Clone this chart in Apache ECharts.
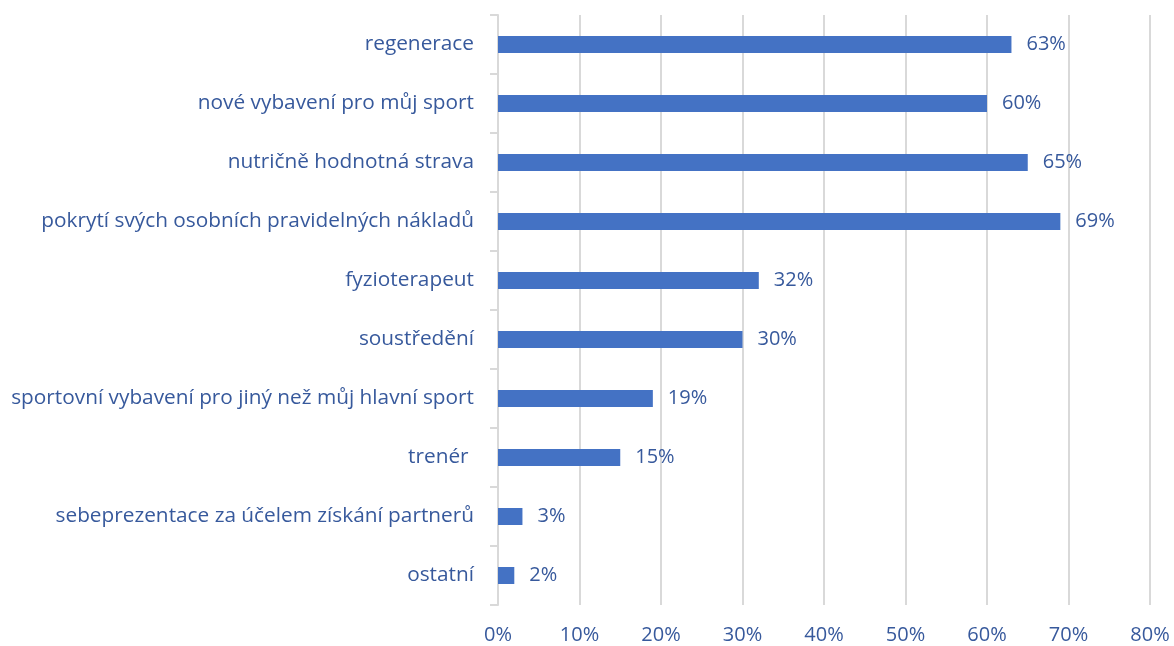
<!DOCTYPE html>
<html>
<head>
<meta charset="utf-8">
<script src="https://cdn.jsdelivr.net/npm/echarts@6/dist/echarts.min.js"></script>
<style>
  html, body { margin: 0; padding: 0; background: #fff; }
  #chart { width: 1174px; height: 646px; }
</style>
</head>
<body>
<div id="chart"></div>
<script>
// Categories listed top to bottom
const categories = [
  'regenerace',
  'nové vybavení pro můj sport',
  'nutričně hodnotná strava',
  'pokrytí svých osobních pravidelných nákladů',
  'fyzioterapeut',
  'soustředění',
  'sportovní vybavení pro jiný než můj hlavní sport',
  'trenér ',
  'sebeprezentace za účelem získání partnerů',
  'ostatní'
];
// Share of respondents, percent
const values = [63, 60, 65, 69, 32, 30, 19, 15, 3, 2];
const xTicks = [0, 10, 20, 30, 40, 50, 60, 70, 80];

const textColor = '#37599c';
const fontFamily = 'Open Sans, Noto Sans, sans-serif';

const chart = echarts.init(document.getElementById('chart'), null, { renderer: 'canvas' });
chart.setOption({
  animation: false,
  grid: { left: 498, right: 24, top: 15, bottom: 41, containLabel: false },
  xAxis: {
    type: 'value',
    min: xTicks[0],
    max: xTicks[xTicks.length - 1],
    interval: 10,
    axisLine: { show: false },
    axisTick: { show: false },
    splitLine: { show: true, lineStyle: { color: '#d9d9d9', width: 2 } },
    axisLabel: {
      formatter: v => v + '%',
      color: textColor,
      fontSize: 20,
      fontFamily: fontFamily,
      margin: 20
    }
  },
  yAxis: {
    type: 'category',
    inverse: true,
    data: categories.slice(),
    axisLine: { show: true, lineStyle: { color: '#d9d9d9', width: 2 } },
    axisTick: { show: true, length: 8, inside: false, lineStyle: { color: '#d9d9d9', width: 2 } },
    axisLabel: {
      color: textColor,
      fontSize: 20.8,
      fontFamily: fontFamily,
      margin: 24
    }
  },
  series: [{
    type: 'bar',
    data: values.slice(),
    barWidth: 17,
    itemStyle: { color: '#4472c4' },
    label: {
      show: true,
      position: 'right',
      distance: 15,
      formatter: p => p.value + '%',
      color: textColor,
      fontSize: 20,
      fontFamily: fontFamily
    }
  }]
});
</script>
</body>
</html>
